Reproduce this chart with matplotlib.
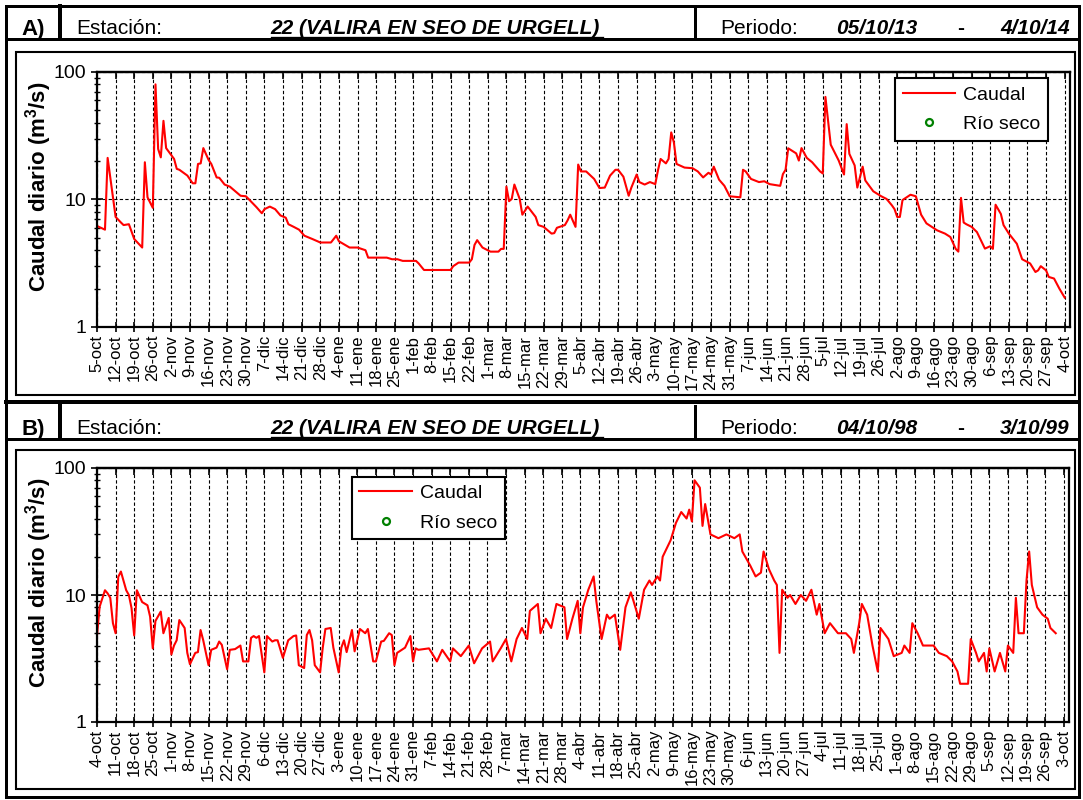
import numpy as np
import matplotlib
matplotlib.use("Agg")
import matplotlib.pyplot as plt
from matplotlib.patches import Rectangle
from matplotlib.ticker import LogLocator, NullFormatter

plt.rcParams['font.family'] = 'Liberation Sans'
plt.rcParams['mathtext.fontset'] = 'custom'
plt.rcParams['mathtext.rm'] = 'Liberation Sans'
plt.rcParams['mathtext.bf'] = 'Liberation Sans:bold'
plt.rcParams['mathtext.default'] = 'bf'

# ---------------- data ----------------
station = "22 (VALIRA EN SEO DE URGELL)"

# panel A: 05/10/13 - 4/10/14 (day 0 = 5-oct)
a_labels = ["5-oct", "12-oct", "19-oct", "26-oct", "2-nov", "9-nov", "16-nov", "23-nov",
            "30-nov", "7-dic", "14-dic", "21-dic", "28-dic", "4-ene", "11-ene", "18-ene",
            "25-ene", "1-feb", "8-feb", "15-feb", "22-feb", "1-mar", "8-mar", "15-mar",
            "22-mar", "29-mar", "5-abr", "12-abr", "19-abr", "26-abr", "3-may", "10-may",
            "17-may", "24-may", "31-may", "7-jun", "14-jun", "21-jun", "28-jun", "5-jul",
            "12-jul", "19-jul", "26-jul", "2-ago", "9-ago", "16-ago", "23-ago", "30-ago",
            "6-sep", "13-sep", "20-sep", "27-sep", "4-oct"]
a_day = [0, 3, 4, 7, 9, 10, 12, 14, 17, 18, 19, 21, 22, 23, 24, 25, 26, 29, 30, 31,
         34, 36, 37, 38, 39, 40, 42, 43, 45, 46, 48, 50, 54, 56, 57, 60, 62, 63, 65, 67,
         69, 71, 72, 74, 76, 78, 81, 84, 88, 90, 91, 95, 98, 101, 102, 109, 111, 113, 115, 120,
         121, 123, 133, 134, 136, 140, 141, 142, 143, 145, 148, 151, 152, 153, 154, 155, 156, 157, 159, 160,
         162, 165, 166, 168, 171, 172, 173, 176, 177, 178, 180, 181, 182, 184, 187, 189, 191, 193, 195, 196,
         198, 200, 201, 203, 204, 206, 208, 210, 211, 212, 214, 215, 216, 217, 218, 221, 224, 226, 228, 230,
         231, 232, 234, 236, 238, 240, 242, 243, 244, 246, 249, 251, 253, 257, 258, 259, 260, 263, 264, 265,
         267, 269, 272, 273, 274, 276, 279, 281, 282, 283, 285, 286, 288, 289, 292, 295, 297, 299, 300, 301,
         302, 303, 306, 308, 310, 312, 316, 319, 321, 323, 324, 325, 326, 327, 329, 331, 334, 336, 337, 338,
         340, 341, 343, 346, 348, 351, 353, 354, 355, 357, 358, 360, 362, 364]
a_val = [6.2, 5.8, 21.2, 7.3, 6.6, 6.3, 6.4, 4.9, 4.2, 19.6, 10.4, 8.6, 80, 24.9, 21.4, 41.4, 25.3, 20.8, 17.4, 17.1,
         15.4, 13.4, 13.4, 19.0, 19.2, 25.3, 20.4, 19.0, 14.9, 14.8, 13.1, 12.6, 10.7, 10.6, 10.1, 8.7, 7.8, 8.4, 8.8, 8.4,
         7.5, 7.2, 6.4, 6.1, 5.8, 5.2, 4.9, 4.6, 4.6, 5.2, 4.7, 4.2, 4.2, 4.0, 3.5, 3.5, 3.4, 3.4, 3.3, 3.3,
         3.15, 2.8, 2.8, 3.0, 3.2, 3.2, 3.4, 4.4, 4.8, 4.2, 3.9, 3.9, 4.1, 4.1, 12.6, 9.7, 10.1, 13.1, 10.1, 7.6,
         8.8, 7.3, 6.3, 6.1, 5.4, 5.45, 6.0, 6.3, 6.85, 7.6, 6.1, 18.8, 16.6, 16.6, 14.5, 12.3, 12.4, 15.4, 17.1, 17.1,
         15.1, 10.7, 12.4, 15.7, 13.7, 13.1, 13.7, 13.2, 16.9, 20.8, 19.2, 20.8, 33.6, 28.0, 19.0, 17.8, 17.6, 16.6, 14.9, 16.2,
         15.7, 18.1, 14.3, 12.8, 10.6, 10.5, 10.4, 17.1, 16.6, 14.5, 13.7, 13.9, 13.2, 12.8, 15.8, 17.1, 25.2, 23.0, 20.2, 25.3,
         21.2, 19.6, 16.6, 16.0, 63.8, 26.9, 20.2, 15.7, 39.0, 22.8, 18.5, 12.4, 18.1, 14.1, 11.6, 10.6, 10.1, 9.0, 8.4, 7.3,
         7.3, 9.9, 10.9, 10.6, 7.6, 6.5, 5.73, 5.4, 5.08, 4.1, 3.9, 10.3, 6.6, 6.4, 6.1, 5.55, 4.12, 4.3, 4.1, 9.1,
         7.7, 6.3, 5.4, 4.5, 3.4, 3.15, 2.7, 2.78, 3.0, 2.78, 2.47, 2.4, 2.0, 1.7]

# panel B: 04/10/98 - 3/10/99 (day 0 = 4-oct)
b_labels = ["4-oct", "11-oct", "18-oct", "25-oct", "1-nov", "8-nov", "15-nov", "22-nov",
            "29-nov", "6-dic", "13-dic", "20-dic", "27-dic", "3-ene", "10-ene", "17-ene",
            "24-ene", "31-ene", "7-feb", "14-feb", "21-feb", "28-feb", "7-mar", "14-mar",
            "21-mar", "28-mar", "4-abr", "11-abr", "18-abr", "25-abr", "2-may", "9-may",
            "16-may", "23-may", "30-may", "6-jun", "13-jun", "20-jun", "27-jun", "4-jul",
            "11-jul", "18-jul", "25-jul", "1-ago", "8-ago", "15-ago", "22-ago", "29-ago",
            "5-sep", "12-sep", "19-sep", "26-sep", "3-oct"]
b_day = [0, 1, 3, 4, 5, 6, 7, 8, 9, 11, 12, 13, 14, 15, 17, 19, 20, 21, 22, 24,
         25, 27, 28, 29, 30, 31, 33, 34, 35, 37, 38, 39, 40, 42, 43, 45, 46, 47, 49, 50,
         52, 54, 55, 57, 58, 59, 60, 61, 63, 64, 66, 67, 68, 70, 72, 74, 75, 76, 78, 79,
         80, 81, 82, 84, 85, 86, 88, 89, 91, 92, 93, 94, 96, 97, 99, 101, 102, 104, 105, 107,
         108, 110, 111, 112, 113, 116, 118, 119, 120, 121, 125, 128, 130, 133, 134, 137, 140, 142, 145, 148,
         149, 152, 154, 156, 158, 160, 162, 163, 166, 167, 169, 171, 173, 176, 177, 179, 181, 182, 183, 185,
         187, 188, 190, 192, 193, 195, 197, 199, 201, 202, 204, 206, 208, 209, 211, 212, 213, 216, 218, 220,
         222, 223, 224, 225, 227, 228, 229, 231, 234, 237, 240, 242, 243, 246, 248, 250, 251, 253, 255, 256,
         257, 258, 260, 261, 263, 265, 267, 269, 271, 272, 274, 276, 279, 282, 284, 285, 287, 288, 290, 292,
         294, 295, 298, 300, 303, 304, 306, 307, 309, 311, 315, 317, 320, 322, 324, 325, 328, 329, 331, 332,
         334, 335, 336, 338, 340, 342, 343, 345, 346, 347, 349, 350, 351, 352, 354, 356, 358, 359, 361]
b_val = [4.8, 8.1, 10.9, 10.3, 9.5, 6.0, 5.0, 13.9, 15.3, 10.9, 10.0, 7.9, 4.8, 10.9, 8.8, 8.3, 6.75, 3.8, 6.24, 7.4,
         5.0, 6.6, 3.4, 4.0, 4.4, 6.35, 5.5, 3.5, 2.85, 3.5, 3.55, 5.3, 4.4, 2.8, 3.7, 3.85, 4.3, 4.05, 2.6, 3.7,
         3.75, 4.0, 3.0, 3.0, 4.6, 4.75, 4.6, 4.75, 2.46, 4.75, 4.3, 4.4, 4.4, 3.2, 4.4, 4.75, 4.8, 2.8, 2.66, 4.84,
         5.3, 4.4, 2.8, 2.46, 3.85, 5.4, 5.5, 3.85, 2.46, 3.85, 4.4, 3.55, 5.3, 3.6, 5.4, 5.0, 5.4, 3.0, 3.0, 4.3,
         4.35, 5.0, 4.84, 2.8, 3.5, 3.85, 4.75, 3.0, 3.8, 3.7, 3.8, 3.0, 3.7, 3.0, 3.8, 3.3, 4.0, 2.9, 3.8, 4.3,
         3.0, 3.8, 4.5, 3.0, 4.5, 5.5, 4.5, 7.5, 8.5, 5.0, 6.5, 5.5, 8.5, 8.0, 4.5, 6.5, 9.0, 5.0, 8.0, 11.0,
         14.0, 9.0, 4.5, 7.0, 6.5, 7.0, 3.7, 8.0, 10.5, 9.0, 6.5, 11.0, 13.0, 12.0, 14.0, 13.0, 20.0, 27.0, 37.0, 45.0,
         40.0, 47.0, 38.0, 80.0, 70.0, 35.0, 52.0, 30.0, 28.0, 30.0, 28.0, 30.0, 22.0, 17.0, 14.0, 15.0, 22.0, 16.0, 13.0, 12.0,
         3.5, 11.0, 9.5, 10.0, 8.5, 10.0, 9.0, 11.0, 7.0, 8.5, 5.0, 6.0, 5.0, 5.0, 4.5, 3.5, 6.0, 8.5, 7.0, 4.0,
         2.5, 5.5, 4.5, 3.3, 3.5, 4.0, 3.5, 6.0, 5.0, 4.0, 4.0, 3.5, 3.3, 3.0, 2.5, 2.0, 2.0, 4.5, 3.5, 3.0,
         3.5, 2.5, 3.8, 2.5, 3.5, 2.5, 4.0, 3.5, 9.5, 5.0, 5.0, 13.0, 22.0, 12.0, 8.0, 7.0, 6.5, 5.5, 5.0]

# ---------------- figure ----------------
W, H = 1083, 800
fig = plt.figure(figsize=(W / 100, H / 100), dpi=100)

# frame drawn in pixel coordinates
bg = fig.add_axes([0, 0, 1, 1])
bg.set_xlim(0, W)
bg.set_ylim(H, 0)
bg.axis('off')


def seg(x0, y0, x1, y1, px):
    bg.plot([x0, x1], [y0, y1], color='k', lw=px * 0.72, clip_on=False,
            solid_capstyle='projecting')


# outer frame
seg(6, 6, 1079, 6, 3)
seg(6, 6, 6, 797, 3)
seg(1079, 6, 1079, 797, 3)
seg(6, 797, 1079, 797, 3)
seg(6, 402, 1079, 402, 4)


def header(y0, tag, d1, d2):
    seg(6, y0 + 33, 1079, y0 + 33, 3)
    seg(60, y0, 60, y0 + 33, 4)
    seg(695, y0, 695, y0 + 33, 3)
    yb = y0 + 28
    bg.text(33, yb + 1, tag, fontsize=16, fontweight='bold', ha='center', va='baseline')
    bg.text(76, yb, "Estación:", fontsize=15, va='baseline')
    bg.text(270, yb, station, fontsize=15, fontweight='bold', fontstyle='italic', va='baseline')
    seg(271, yb + 3, 603, yb + 3, 1.3)
    bg.text(720, yb, "Periodo:", fontsize=15, va='baseline')
    bg.text(836, yb, d1, fontsize=15, fontweight='bold', fontstyle='italic', va='baseline')
    bg.text(957, yb, "-", fontsize=15, fontweight='bold', va='baseline')
    bg.text(1000, yb, d2, fontsize=15, fontweight='bold', fontstyle='italic', va='baseline')


header(6, "A)", "05/10/13", "4/10/14")
header(406, "B)", "04/10/98", "3/10/99")

bg.add_patch(Rectangle((16, 52), 1059, 343, fill=False, lw=1.5, ec='k', clip_on=False))
bg.add_patch(Rectangle((16, 450), 1059, 339, fill=False, lw=1.5, ec='k', clip_on=False))


def panel(rect, labels, days, vals, leg_anchor):
    ax = fig.add_axes(rect)
    ax.plot(days, vals, color='red', lw=1.5, label='Caudal')
    ax.plot([], [], 'o', mfc='none', mec='green', mew=1.6, ms=5, label='Río seco')
    ax.set_yscale('log')
    ax.set_ylim(1, 100)
    ax.set_xlim(0, 366)
    ticks = np.arange(len(labels)) * 7
    ax.set_xticks(ticks)
    ax.set_xticklabels(labels, rotation=90, fontsize=12)
    ax.set_yticks([1, 10, 100])
    ax.set_yticklabels(['1', '10', '100'], fontsize=14)
    ax.yaxis.set_minor_locator(LogLocator(base=10, subs=np.arange(2, 10)))
    ax.yaxis.set_minor_formatter(NullFormatter())
    ax.grid(True, axis='x', linestyle=(0, (3, 2)), color='k', lw=0.8)
    ax.grid(True, axis='y', which='major', linestyle=(0, (3, 2)), color='k', lw=0.8)
    ax.tick_params(axis='x', direction='inout', length=7, width=1.2, pad=2)
    ax.tick_params(axis='y', which='major', direction='inout', length=9, width=1.2, pad=3)
    ax.tick_params(axis='y', which='minor', direction='inout', length=5, width=1.0)
    top = ax.secondary_xaxis('top')
    top.set_xticks(ticks)
    top.set_xticklabels([])
    top.tick_params(direction='in', length=5, width=1.2)
    top.spines['top'].set_linewidth(1.6)
    for s in ax.spines.values():
        s.set_linewidth(1.6)
    ax.set_ylabel('Caudal diario (m$^3$/s)', fontsize=16, fontweight='bold')
    ax.yaxis.set_label_coords(-0.044, 0.55)
    leg = ax.legend(loc='upper left', bbox_to_anchor=leg_anchor, fontsize=14, frameon=True,
                    fancybox=False, edgecolor='k', framealpha=1, handlelength=2.7,
                    handletextpad=0.4, labelspacing=0.6, borderpad=0.4, borderaxespad=0)
    leg.get_frame().set_linewidth(1.5)
    return ax


panel([97 / W, 1 - 327 / H, 973 / W, 255 / H], a_labels, a_day, a_val, (0.820, 0.976))
panel([97 / W, 1 - 722 / H, 972 / W, 254 / H], b_labels, b_day, b_val, (0.262, 0.965))

fig.savefig("out.png", dpi=100)
